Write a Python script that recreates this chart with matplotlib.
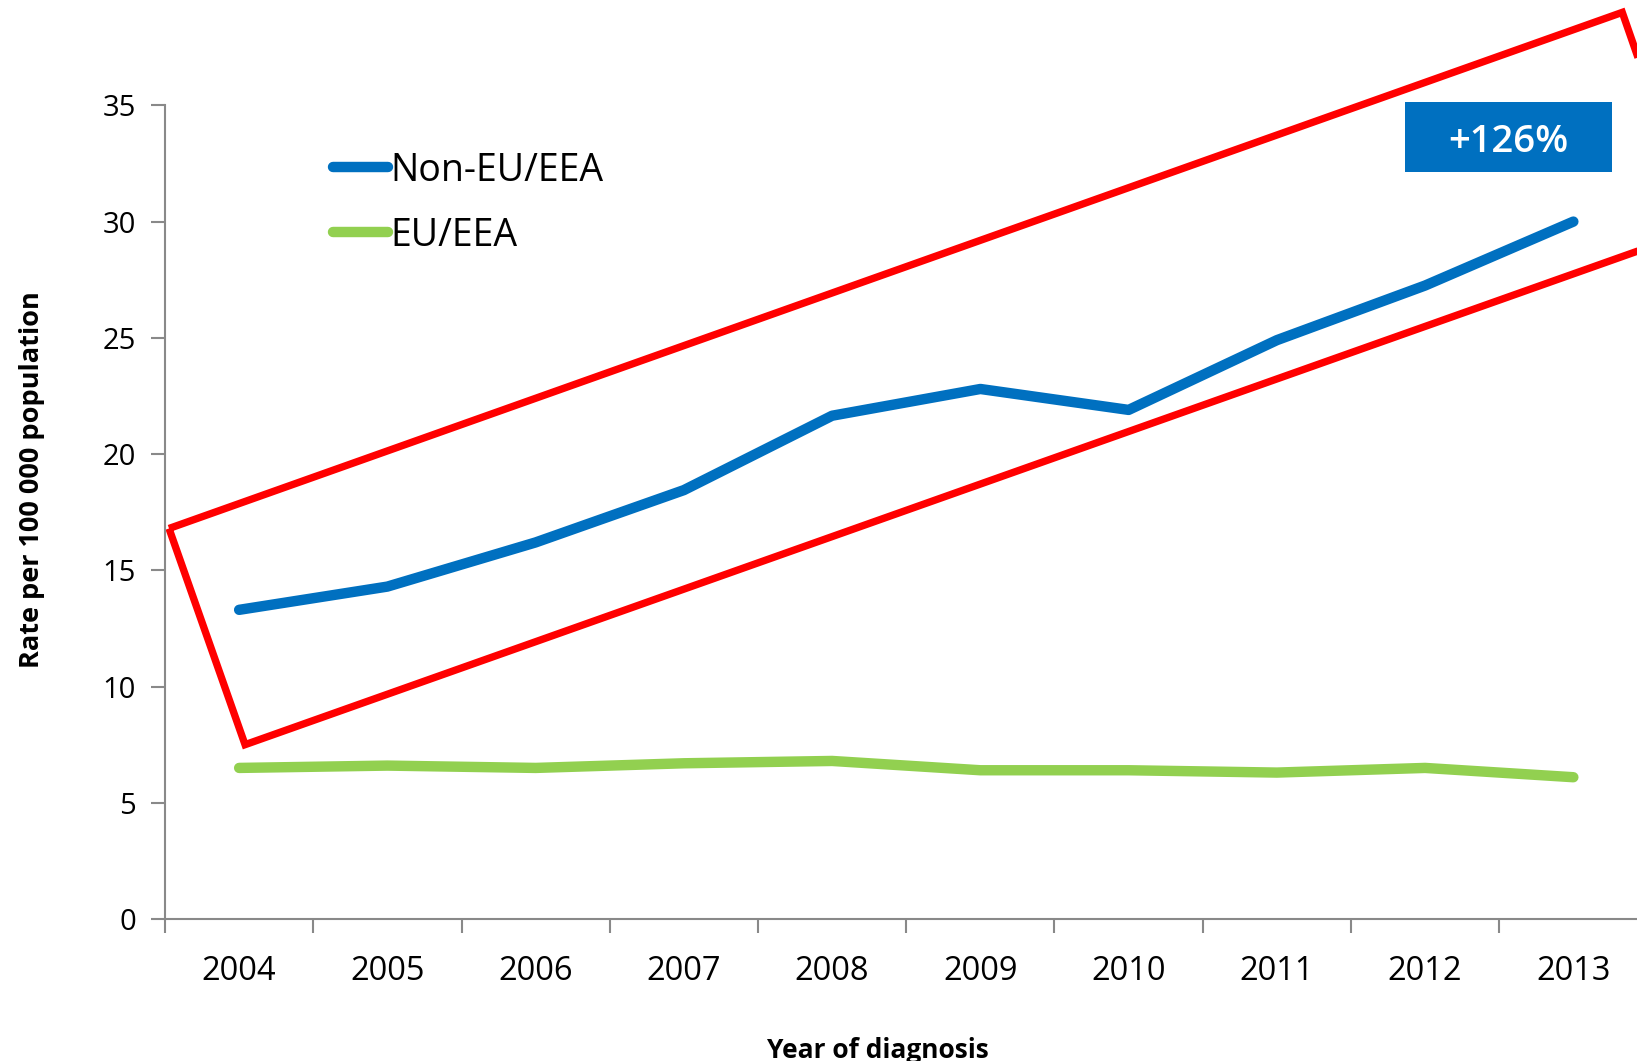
import numpy as np
import matplotlib
matplotlib.use("Agg")
import matplotlib.pyplot as plt
from matplotlib.patches import Polygon, Rectangle

years = ["2004", "2005", "2006", "2007", "2008", "2009", "2010", "2011", "2012", "2013"]
non_eu = [13.3, 14.3, 16.2, 18.45, 21.65, 22.8, 21.9, 24.9, 27.25, 30.0]
eu = [6.5, 6.6, 6.5, 6.7, 6.8, 6.4, 6.4, 6.3, 6.5, 6.1]
y_ticks = [0, 5, 10, 15, 20, 25, 30, 35]

# highlighted trend box (category index, rate)
box_x = [-0.473, 0.04, 9.84, 9.33]
box_y = [16.8, 7.5, 29.65, 39.0]

blue = "#0070C0"
green = "#92D050"
grey = "#898989"

plt.rcParams['font.family'] = ['Open Sans', 'DejaVu Sans']

fig = plt.figure(figsize=(16.37, 10.61), dpi=100)
# plot area runs a little past the right edge of the figure
ax = fig.add_axes([0.1008, 0.1338, 0.9056, 0.7669])

x = np.arange(len(years))
ax.plot(x, non_eu, color=blue, lw=7.5, solid_capstyle='round', solid_joinstyle='round', label="Non-EU/EEA")
ax.plot(x, eu, color=green, lw=7.5, solid_capstyle='round', solid_joinstyle='round', label="EU/EEA")

ax.add_patch(Polygon(np.column_stack([box_x, box_y]), closed=True, fill=False,
                     edgecolor="#FF0000", lw=5.3, joinstyle='miter', clip_on=False))

ax.set_xlim(-0.5, len(years) - 0.5)
ax.set_ylim(0, 35)
ax.set_yticks(y_ticks)
ax.set_xticks(x)
ax.set_xticklabels(years)
ax.set_xticks(np.arange(len(years) + 1) - 0.5, minor=True)

for s in ["top", "right"]:
    ax.spines[s].set_visible(False)
for s in ["left", "bottom"]:
    ax.spines[s].set_color(grey)
    ax.spines[s].set_linewidth(1.5)

ax.tick_params(axis='x', which='major', length=0, pad=26, labelsize=23.5)
ax.tick_params(axis='x', which='minor', length=10, width=1.5, color=grey)
ax.tick_params(axis='y', length=10, width=1.5, color=grey, pad=11, labelsize=21)

ax.set_ylabel("Rate per 100 000 population", fontsize=19.5, fontweight='bold')
ax.yaxis.set_label_coords(-0.081, 0.54)
ax.set_xlabel("Year of diagnosis", fontsize=19, fontweight='bold')
ax.xaxis.set_label_coords(0.481, -0.145)

ax.legend(loc='upper left', bbox_to_anchor=(0.183, 0.889), bbox_transform=fig.transFigure,
          frameon=False, fontsize=27, handlelength=1.47, handletextpad=0.05, labelspacing=0.72)

fig.patches.append(Rectangle((0.858, 0.838), 0.127, 0.066, transform=fig.transFigure,
                             facecolor=blue, edgecolor='none'))
fig.text(0.9215, 0.8665, "+126%", color='white', fontsize=27.5, fontweight='semibold',
         ha='center', va='center')

fig.savefig("out.png", dpi=100)
